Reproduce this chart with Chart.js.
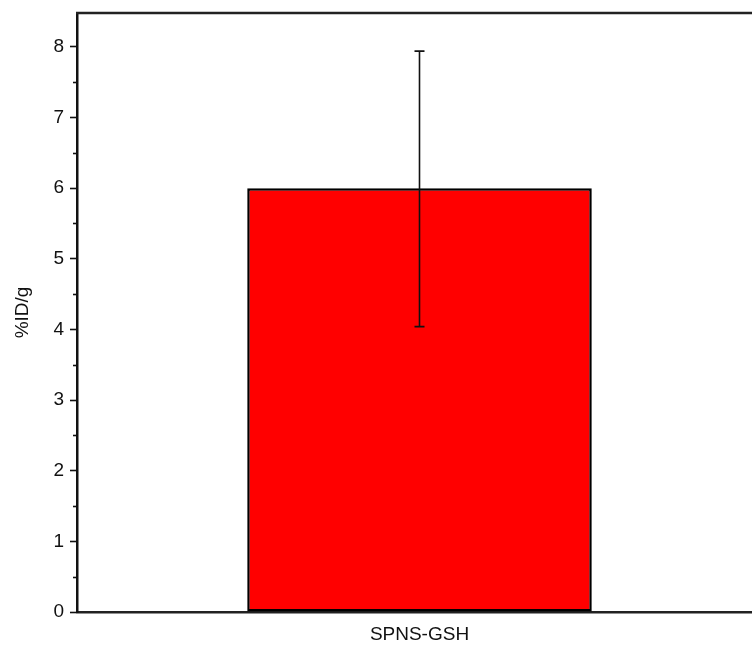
<!DOCTYPE html>
<html>
<head>
<meta charset="utf-8">
<script src="https://cdn.jsdelivr.net/npm/chart.js@4/dist/chart.umd.min.js"></script>
<style>
  html, body { margin: 0; padding: 0; background: #fff; overflow: hidden; }
  #wrap { width: 752px; height: 646px; overflow: hidden; }
</style>
</head>
<body>
<div id="wrap"><canvas id="c" width="762" height="646"></canvas></div>
<script>
// datos
const categories = ['SPNS-GSH'];
const values = [6.0];
const errLow = [4.04];
const errHigh = [7.94];
const yTicksMajor = [0, 1, 2, 3, 4, 5, 6, 7, 8];
const yMin = 0, yMax = 8.48;

// barras de error + ticks menores + marco superior
const extras = {
  id: 'extras',
  afterDatasetsDraw(chart) {
    const ctx = chart.ctx;
    const y = chart.scales.y;
    const meta = chart.getDatasetMeta(0);
    ctx.save();
    ctx.strokeStyle = '#111';
    ctx.lineWidth = 1.6;
    meta.data.forEach((bar, i) => {
      const yl = y.getPixelForValue(errLow[i]);
      const yh = y.getPixelForValue(errHigh[i]);
      ctx.beginPath();
      ctx.moveTo(bar.x, yl); ctx.lineTo(bar.x, yh);
      ctx.moveTo(bar.x - 5, yl); ctx.lineTo(bar.x + 5, yl);
      ctx.moveTo(bar.x - 5, yh); ctx.lineTo(bar.x + 5, yh);
      ctx.stroke();
    });
    // ticks menores
    const area = chart.chartArea;
    ctx.lineWidth = 1.6;
    for (let v = 0.5; v < yMax; v += 1) {
      const py = Math.round(y.getPixelForValue(v)) + 0.5;
      ctx.beginPath();
      ctx.moveTo(area.left - 4, py); ctx.lineTo(area.left, py);
      ctx.stroke();
    }
    // marco superior y derecho
    ctx.strokeStyle = '#222';
    ctx.lineWidth = 2.5;
    ctx.beginPath();
    ctx.moveTo(area.left - 1, area.top);
    ctx.lineTo(area.right, area.top);
    ctx.lineTo(area.right, area.bottom);
    ctx.stroke();
    ctx.restore();
  }
};

new Chart(document.getElementById('c'), {
  type: 'bar',
  data: {
    labels: categories,
    datasets: [{
      data: values,
      backgroundColor: '#ff0000',
      borderColor: '#000',
      borderWidth: 2.5,
      borderSkipped: false,
      categoryPercentage: 1.0,
      barPercentage: 0.503
    }]
  },
  options: {
    responsive: false,
    animation: false,
    layout: { padding: { top: 13, left: 0, right: 0, bottom: 0 } },
    plugins: { legend: { display: false }, tooltip: { enabled: false } },
    scales: {
      x: {
        grid: { display: false, drawTicks: false },
        border: { display: true, color: '#222', width: 2.5 },
        ticks: { color: '#111', font: { family: 'Liberation Sans, Arial', size: 19 }, padding: 11 },
        afterFit(s) { s.height = 34; s.paddingLeft = 0; s.paddingRight = 0; }
      },
      y: {
        min: yMin,
        max: yMax,
        afterBuildTicks(s) { s.ticks = yTicksMajor.map(v => ({ value: v })); },
        grid: { display: true, drawOnChartArea: false, drawTicks: true, tickLength: 7, tickWidth: 1.6, tickColor: '#111' },
        border: { display: true, color: '#111', width: 2.5 },
        ticks: { color: '#111', font: { family: 'Liberation Sans, Arial', size: 19 }, padding: 6 },
        title: { display: true, text: '%ID/g', color: '#111', font: { family: 'Liberation Sans, Arial', size: 19 }, padding: { top: 11, bottom: 0 } },
        afterFit(s) { s.width = 77; s.paddingTop = 0; s.paddingBottom = 0; }
      }
    }
  },
  plugins: [extras]
});
</script>
</body>
</html>
